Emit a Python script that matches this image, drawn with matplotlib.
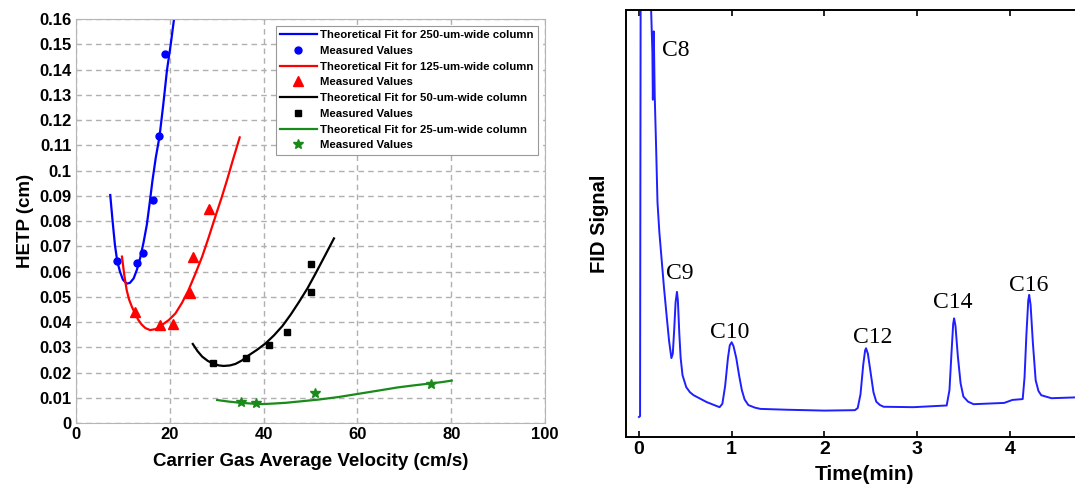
import matplotlib
matplotlib.use('Agg')
import matplotlib.pyplot as plt
from matplotlib.font_manager import FontProperties

# ---- left panel: HETP vs carrier gas velocity
fit_250_u = [7.3, 7.8, 8.3, 8.8, 9.4, 10.0, 10.8, 11.5, 12.3, 13.0, 13.7, 14.4, 15.1, 15.7,
             16.3, 17.0, 17.8, 18.6, 19.4, 20.2, 20.9, 21.3]
fit_250_h = [0.0903, 0.0800, 0.0705, 0.0640, 0.0598, 0.0568, 0.0552, 0.0555, 0.0573, 0.0608,
             0.0655, 0.0715, 0.0785, 0.0870, 0.0960, 0.1050, 0.1134, 0.1260, 0.1398, 0.1500,
             0.1600, 0.1670]
meas_250_u = [8.7, 13.0, 14.2, 16.5, 17.8, 18.9]
meas_250_h = [0.0643, 0.0632, 0.0675, 0.0883, 0.1138, 0.146]

fit_125_u = [9.8, 10.3, 10.8, 11.3, 11.9, 12.6, 13.3, 14.0, 14.8, 15.8, 17.0, 18.3, 19.8,
             21.2, 22.6, 24.0, 25.4, 26.9, 28.3, 29.7, 31.0, 32.2, 33.5, 34.9]
fit_125_h = [0.0659, 0.0585, 0.0527, 0.0490, 0.0461, 0.0432, 0.0408, 0.0390, 0.0376, 0.0368,
             0.0372, 0.0388, 0.0408, 0.0434, 0.0476, 0.0527, 0.0589, 0.0659, 0.0736, 0.0817,
             0.0890, 0.0962, 0.1045, 0.1131]
meas_125_u = [12.6, 18.0, 20.7, 24.2, 25.0, 28.4]
meas_125_h = [0.0441, 0.0390, 0.0394, 0.0513, 0.0656, 0.0846]

fit_50_u = [24.9, 25.9, 26.9, 28.1, 29.4, 30.5, 31.5, 32.8, 34.0, 35.4, 36.9, 38.6, 40.4,
            42.2, 44.0, 45.8, 47.6, 49.4, 51.1, 53.0, 55.0]
fit_50_h = [0.0313, 0.0285, 0.0263, 0.0246, 0.0234, 0.0228, 0.0226, 0.0228, 0.0234, 0.0248,
            0.0269, 0.0290, 0.0315, 0.0347, 0.0384, 0.0430, 0.0481, 0.0535, 0.0593, 0.0660,
            0.0731]
meas_50_u = [29.2, 36.3, 41.1, 44.9, 50.1, 50.1]
meas_50_h = [0.0236, 0.0259, 0.0309, 0.0359, 0.0518, 0.0630]

fit_25_u = [30.1, 32.5, 35.1, 37.5, 39.7, 42.0, 44.7, 48.0, 51.8, 56.0, 60.0, 64.0, 68.6,
            72.0, 75.7, 78.0, 80.1]
fit_25_h = [0.0091, 0.0085, 0.0080, 0.0077, 0.0075, 0.0077, 0.0080, 0.0086, 0.0093, 0.0103,
            0.0115, 0.0127, 0.0141, 0.0149, 0.0157, 0.0162, 0.0168]
meas_25_u = [35.1, 38.4, 50.9, 75.7]
meas_25_h = [0.0082, 0.0078, 0.0117, 0.0153]

# ---- right panel: FID chromatogram (arbitrary units)
time_min = [0.00, 0.012, 0.02, 0.12, 0.13, 0.145, 0.15, 0.16, 0.17, 0.185, 0.20, 0.22, 0.245,
            0.27, 0.30, 0.325, 0.35, 0.365, 0.38, 0.395, 0.41, 0.42, 0.435, 0.45, 0.47, 0.51,
            0.55, 0.59, 0.66, 0.73, 0.80, 0.87, 0.90, 0.93, 0.96, 0.98, 1.00, 1.02, 1.05, 1.08,
            1.11, 1.14, 1.18, 1.25, 1.31, 1.60, 2.00, 2.33, 2.36, 2.39, 2.42, 2.44, 2.45, 2.47,
            2.50, 2.53, 2.56, 2.60, 2.64, 2.96, 3.32, 3.35, 3.37, 3.39, 3.40, 3.415, 3.44, 3.47,
            3.50, 3.55, 3.61, 3.94, 4.03, 4.14, 4.16, 4.18, 4.20, 4.21, 4.225, 4.25, 4.28, 4.31,
            4.34, 4.45, 4.72, 4.85]
fid = [4.7, 4.9, 130, 130, 101, 90, 79, 95, 80, 68, 55, 48, 41.5,
       35, 28.1, 22.5, 18.5, 19.5, 25, 31.5, 34, 32, 24.4, 18.5, 14.5, 11.7,
       10.5, 9.8, 9.0, 8.2, 7.6, 7.0, 7.8, 12, 18.5, 21.5, 22.2, 21.3, 18.5, 14.5,
       11.0, 8.8, 7.5, 6.9, 6.6, 6.4, 6.2, 6.3, 6.8, 10, 17, 20.3, 20.8, 19.5,
       15, 10.5, 8.3, 7.5, 7.1, 7.0, 7.4, 11, 19, 26.5, 27.8, 26, 19, 12.6,
       9.5, 8.3, 7.7, 8.0, 8.7, 8.9, 14, 24, 32, 33.3, 31, 22, 13.3, 10.8,
       9.8, 9.1, 9.3, 9.3]
peak_names = ['C8', 'C9', 'C10', 'C12', 'C14', 'C16']
peak_label_t = [0.40, 0.44, 0.98, 2.52, 3.38, 4.20]
peak_label_v = [90.5, 38.2, 24.6, 23.2, 31.6, 35.4]

fig = plt.figure(figsize=(10.75, 4.9), dpi=100)
bold = dict(family='Liberation Sans', weight='bold')

ax1 = fig.add_axes([0.0707, 0.1367, 0.4363, 0.8245])
ax1.plot(fit_250_u, fit_250_h, color='#0000ff', lw=1.6, label='Theoretical Fit for 250-um-wide column')
ax1.plot(meas_250_u, meas_250_h, 'o', color='#0000ff', ms=5, label='Measured Values')
ax1.plot(fit_125_u, fit_125_h, color='#ff0000', lw=1.6, label='Theoretical Fit for 125-um-wide column')
ax1.plot(meas_125_u, meas_125_h, '^', color='#ff0000', ms=6.5, label='Measured Values')
ax1.plot(fit_50_u, fit_50_h, color='black', lw=1.6, label='Theoretical Fit for 50-um-wide column')
ax1.plot(meas_50_u, meas_50_h, 's', color='black', ms=5, label='Measured Values')
ax1.plot(fit_25_u, fit_25_h, color='#1a8a1a', lw=1.6, label='Theoretical Fit for 25-um-wide column')
ax1.plot(meas_25_u, meas_25_h, '*', color='#1a8a1a', ms=7, label='Measured Values')

ax1.set_xlim(0, 100)
ax1.set_ylim(0, 0.16)
ax1.set_xticks(range(0, 101, 20))
yt = [i / 100 for i in range(17)]
ax1.set_yticks(yt)
ax1.set_yticklabels(['%g' % v for v in yt])
ax1.grid(True, color='#b0b0b0', linestyle=(0, (4, 3)), linewidth=1)
for s in ax1.spines.values():
    s.set_color('#b5b5b5')
ax1.tick_params(direction='in', length=3, color='#b5b5b5', pad=3)
for lab in ax1.get_xticklabels() + ax1.get_yticklabels():
    lab.set_fontproperties(FontProperties(size=12, **bold))
ax1.set_xlabel('Carrier Gas Average Velocity (cm/s)', fontsize=13.5, labelpad=8, **bold)
ax1.set_ylabel('HETP (cm)', fontsize=13.5, labelpad=4, **bold)
leg = ax1.legend(loc='upper right', prop=FontProperties(size=8.2, **bold),
                 fancybox=False, framealpha=1, edgecolor='#999999', handlelength=3.2,
                 labelspacing=0.5, borderpad=0.4, handletextpad=0.3, borderaxespad=0.6)
leg.get_frame().set_linewidth(0.8)

ax2 = fig.add_axes([0.5823, 0.108, 0.4432, 0.8716])
ax2.plot(time_min, fid, color='#1f1fff', lw=1.4)
for name, tx, ty in zip(peak_names, peak_label_t, peak_label_v):
    ax2.text(tx, ty, name, ha='center', va='center', fontsize=17, family='Liberation Serif')
ax2.set_xlim(-0.14, 5.0)
ax2.set_ylim(0, 100)
ax2.set_yticks([])
ax2.set_xticks(range(0, 5))
ax2.tick_params(axis='x', direction='in', top=True, length=4, width=1.2, pad=3)
for lab in ax2.get_xticklabels():
    lab.set_fontproperties(FontProperties(size=14, **bold))
for s in ax2.spines.values():
    s.set_linewidth(1.4)
ax2.set_xlabel('Time(min)', fontsize=15, labelpad=5, **bold)
ax2.set_ylabel('FID Signal', fontsize=14.5, labelpad=12, **bold)

fig.savefig('out.png', dpi=100, facecolor='white')
